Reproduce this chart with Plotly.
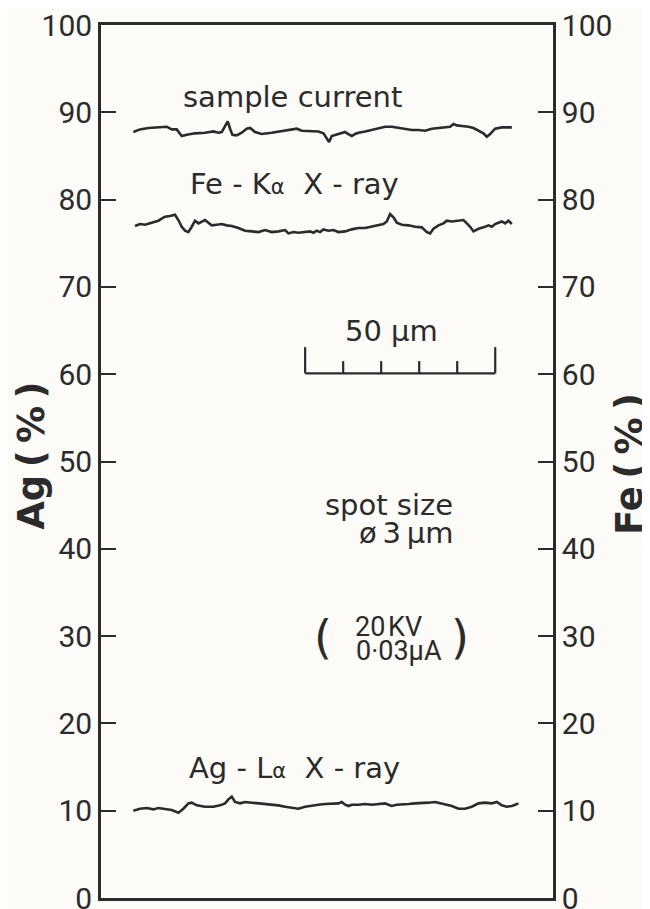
import plotly.graph_objects as go

# ---------------- data ----------------
# distance along the scan line, micrometres
cur_x = [8.51, 10.26, 12.46, 15.09, 17.28, 18.6, 19.91, 21.23, 22.54, 24.74, 27.37, 29.56, 30.88, 31.75,
         32.63, 33.33, 33.95, 34.56, 35.70, 37.02, 38.33, 39.21, 40.53, 42.28, 44.91, 47.54, 50.18, 51.49,
         52.81, 55.44, 57.19, 58.51, 59.39, 60.0, 60.70, 61.40, 62.46, 63.33, 64.21, 65.09, 65.96, 66.84,
         67.72, 69.47, 71.23, 72.98, 74.74, 76.49, 78.25, 80.0, 81.75, 83.51, 85.26, 87.02, 88.77, 90.53,
         91.84, 92.72, 93.60, 94.91, 96.67, 97.98, 99.30, 100.61, 101.49, 102.37, 103.68, 105.44, 108.07]
cur_y = [87.74, 88.04, 88.20, 88.27, 88.35, 88.04, 88.04, 87.28, 87.43, 87.59, 87.66, 87.81, 87.66, 87.74,
         88.50, 88.96, 88.12, 87.43, 87.36, 87.66, 88.12, 88.20, 87.74, 87.51, 87.66, 87.81, 88.04, 88.12,
         87.89, 87.81, 87.81, 87.59, 86.97, 86.59, 87.28, 87.36, 87.51, 87.66, 87.74, 87.51, 87.28, 87.51,
         87.66, 87.81, 87.97, 88.20, 88.35, 88.35, 88.20, 88.04, 87.97, 87.97, 87.89, 88.12, 88.20, 88.27,
         88.35, 88.65, 88.50, 88.43, 88.35, 88.20, 87.89, 87.59, 87.20, 87.51, 88.12, 88.27, 88.27]

fe_x = [8.95, 10.26, 11.58, 12.89, 14.21, 15.09, 15.96, 16.84, 18.16, 19.47, 20.35, 21.23, 22.11, 22.98,
        23.86, 24.74, 25.61, 26.49, 27.37, 28.25, 29.12, 30.44, 31.75, 33.07, 34.39, 36.14, 37.89, 39.65,
        41.40, 43.16, 44.91, 46.67, 48.42, 49.30, 50.61, 51.93, 53.68, 55.0, 55.88, 56.75, 57.63, 58.51,
        59.82, 61.14, 62.46, 64.21, 65.96, 67.72, 69.47, 71.23, 72.98, 74.30, 75.18, 76.05, 76.93, 77.81,
        79.12, 80.88, 82.63, 84.39, 85.70, 86.58, 87.46, 88.77, 90.09, 90.96, 92.28, 94.04, 95.35, 96.23,
        97.11, 97.98, 99.30, 100.61, 101.93, 102.81, 103.68, 104.56, 105.44, 106.32, 107.19, 108.07]
fe_y = [76.97, 77.20, 77.12, 77.28, 77.43, 77.58, 77.81, 78.04, 78.12, 78.27, 77.66, 76.89, 76.44, 76.28,
        76.89, 77.58, 77.28, 77.43, 77.66, 77.35, 77.05, 77.12, 77.20, 77.05, 76.97, 76.74, 76.44, 76.36,
        76.28, 76.51, 76.28, 76.36, 76.51, 76.13, 76.28, 76.21, 76.28, 76.36, 76.21, 76.44, 76.28, 76.59,
        76.44, 76.51, 76.28, 76.36, 76.59, 76.74, 76.74, 76.89, 77.05, 77.20, 77.50, 78.35, 77.96, 77.35,
        77.12, 77.05, 76.89, 76.82, 76.28, 76.13, 76.66, 77.05, 77.28, 77.58, 77.50, 77.58, 77.66, 77.28,
        76.89, 76.36, 76.66, 76.82, 77.05, 76.89, 77.20, 77.35, 77.50, 77.28, 77.58, 77.20]

ag_x = [8.51, 10.26, 12.02, 13.77, 15.09, 16.84, 18.60, 20.35, 21.67, 22.98, 23.86, 25.18, 27.37, 29.56,
        31.32, 32.63, 33.51, 34.39, 35.26, 36.58, 37.89, 39.65, 41.40, 43.16, 44.91, 46.67, 48.42, 50.18,
        51.93, 53.68, 55.44, 57.19, 58.95, 60.70, 62.46, 63.33, 64.21, 65.09, 65.96, 67.72, 69.47, 71.23,
        72.98, 74.74, 75.61, 76.49, 77.81, 79.12, 80.88, 82.63, 84.39, 86.14, 87.89, 89.21, 90.53, 92.28,
        94.04, 95.79, 97.54, 99.30, 101.05, 102.81, 104.12, 105.44, 106.75, 108.07, 108.95, 109.82]
ag_y = [10.00, 10.23, 10.31, 10.15, 10.31, 10.23, 10.08, 9.77, 10.23, 10.84, 10.92, 10.61, 10.46, 10.46,
        10.61, 10.84, 11.30, 11.61, 11.00, 10.84, 11.00, 10.92, 10.84, 10.84, 10.69, 10.61, 10.46, 10.31,
        10.23, 10.46, 10.61, 10.69, 10.77, 10.77, 10.84, 11.00, 10.69, 10.54, 10.69, 10.69, 10.77, 10.69,
        10.77, 10.84, 10.69, 10.54, 10.69, 10.69, 10.77, 10.84, 10.84, 10.92, 11.00, 10.84, 10.69, 10.54,
        10.23, 10.23, 10.46, 10.84, 10.92, 10.84, 11.00, 10.61, 10.46, 10.54, 10.69, 10.84]

tick_vals = [0, 10, 20, 30, 40, 50, 60, 70, 80, 90, 100]
tick_text = ["0", "10", "20", "30", "40", "50", "60", "70", "80", "90", "100"]

# 50 um scale bar
scale_start_um = 53.7
scale_length_um = 50
scale_step_um = 10
scale_base = 60.1
scale_end_top = 63.1
scale_mid_top = 61.5

# ---------------- styling ----------------
INK = "#2b2b2b"
BG = "#fcfbf7"
TICK_FONT = dict(family="Roboto", size=30, color=INK)
TXT_FONT = dict(family="DejaVu Sans", size=29, color=INK)
COND_FONT = dict(family="Roboto", size=27, color=INK)
ALPHA = "<span style='font-size:21px'>α</span>"
TS = "\u2009"
HS = "\u200a"

fig = go.Figure()
line_style = dict(color=INK, width=2.6)
fig.add_trace(go.Scatter(x=cur_x, y=cur_y, mode="lines", line=line_style, name="sample current",
                         yaxis="y"))
fig.add_trace(go.Scatter(x=fe_x, y=fe_y, mode="lines", line=line_style, name="Fe-Kα X-ray",
                         yaxis="y2"))
fig.add_trace(go.Scatter(x=ag_x, y=ag_y, mode="lines", line=line_style, name="Ag-Lα X-ray",
                         yaxis="y"))

# scale bar
shapes = []
bar_end = scale_start_um + scale_length_um
shapes.append(dict(type="line", xref="x", yref="y", x0=scale_start_um, x1=bar_end,
                   y0=scale_base, y1=scale_base, line=dict(color=INK, width=2.2)))
n_steps = int(scale_length_um / scale_step_um)
for i in range(n_steps + 1):
    xv = scale_start_um + i * scale_step_um
    top = scale_end_top if i in (0, n_steps) else scale_mid_top
    shapes.append(dict(type="line", xref="x", yref="y", x0=xv, x1=xv, y0=scale_base, y1=top,
                       line=dict(color=INK, width=2.2)))

PAREN_FONT = dict(family="DejaVu Sans", size=46, color=INK)
annotations = [
    dict(x=50.3, y=91.8, xref="x", yref="y", text="sample current", showarrow=False,
         xanchor="center", yanchor="middle", font=TXT_FONT),
    dict(x=50.8, y=81.8, xref="x", yref="y",
         text="Fe - K" + ALPHA + "  X - ray", showarrow=False,
         xanchor="center", yanchor="middle", font=TXT_FONT),
    dict(x=76.3, y=64.9, xref="x", yref="y", text="50 µm", showarrow=False,
         xanchor="center", yanchor="middle", font=TXT_FONT),
    dict(x=93.0, y=45.0, xref="x", yref="y", text="spot size", showarrow=False,
         xanchor="right", yanchor="middle", font=TXT_FONT),
    dict(x=93.0, y=41.8, xref="x", yref="y", text="ø" + TS + "3" + TS + "µm", showarrow=False,
         xanchor="right", yanchor="middle", font=TXT_FONT),
    dict(x=75.5, y=31.1, xref="x", yref="y", text="20" + HS + "KV", showarrow=False,
         xanchor="center", yanchor="middle", font=COND_FONT),
    dict(x=78.3, y=28.3, xref="x", yref="y", text="0·03µA", showarrow=False,
         xanchor="center", yanchor="middle", font=COND_FONT),
    dict(x=58.4, y=29.9, xref="x", yref="y", text="(", showarrow=False,
         xanchor="center", yanchor="middle", font=PAREN_FONT),
    dict(x=94.5, y=29.9, xref="x", yref="y", text=")", showarrow=False,
         xanchor="center", yanchor="middle", font=PAREN_FONT),
    dict(x=51.0, y=14.9, xref="x", yref="y",
         text="Ag - L" + ALPHA + "  X - ray", showarrow=False,
         xanchor="center", yanchor="middle", font=TXT_FONT),
    # axis titles
    dict(x=-0.154, y=0.507, xref="paper", yref="paper",
         text="<b>Ag" + TS + "(" + TS + "%" + TS + ")</b>", textangle=-90,
         showarrow=False, xanchor="center", yanchor="middle",
         font=dict(family="DejaVu Sans", size=37, color=INK)),
    dict(x=1.168, y=0.497, xref="paper", yref="paper",
         text="<b>Fe" + TS + "(" + TS + "%" + TS + ")</b>", textangle=-90,
         showarrow=False, xanchor="center", yanchor="middle",
         font=dict(family="DejaVu Sans", size=37, color=INK)),
]

axis_common = dict(range=[0, 100], tickmode="array", tickvals=tick_vals, ticktext=tick_text,
                   ticks="inside", ticklen=15, tickwidth=2.2, tickcolor=INK,
                   showline=True, linecolor=INK, linewidth=2.6, showgrid=False, zeroline=False,
                   tickfont=TICK_FONT, ticklabeloverflow="allow", automargin=False,
                   fixedrange=True)

# the page adds an 8 px body margin, so the figure is sized and padded to compensate
fig.update_layout(
    width=642, height=901,
    margin=dict(l=93, r=97, t=17, b=11, autoexpand=False),
    paper_bgcolor=BG, plot_bgcolor=BG,
    showlegend=False,
    xaxis=dict(range=[0, 118.9], showticklabels=False, ticks="", showline=True, mirror=True,
               linecolor=INK, linewidth=2.6, showgrid=False, zeroline=False, fixedrange=True,
               automargin=False),
    yaxis=dict(side="left", **axis_common),
    yaxis2=dict(side="right", overlaying="y", **axis_common),
    shapes=shapes,
    annotations=annotations,
)

fig.write_html("out.html")
